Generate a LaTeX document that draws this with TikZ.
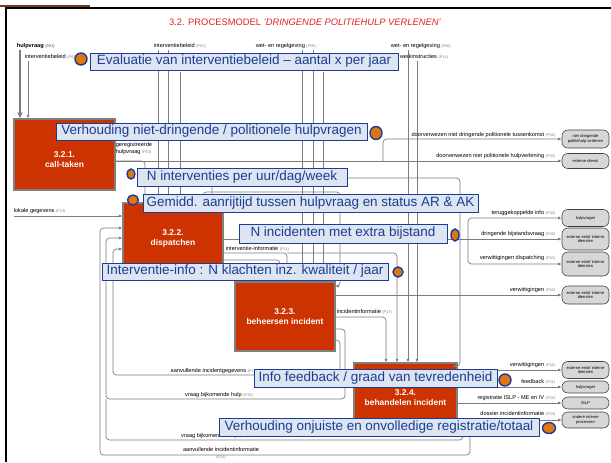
\documentclass[tikz,border=0pt]{standalone}
\usepackage{fontspec}
\setmainfont{Liberation Sans}
\usetikzlibrary{arrows.meta}
\usetikzlibrary{calc}
\usetikzlibrary{shapes.geometric}

\definecolor{procred}{RGB}{204,51,0}
\definecolor{flowgrey}{RGB}{125,125,125}
\definecolor{noteblue}{RGB}{28,60,150}
\definecolor{notefill}{RGB}{221,229,240}
\definecolor{dotorange}{RGB}{222,118,20}
\definecolor{termfill}{RGB}{215,215,215}
\definecolor{titlered}{RGB}{228,32,32}
\definecolor{framebrown}{RGB}{110,60,30}

\newcommand{\pnr}[1]{{\fontsize{3.3}{4}\selectfont\color{gray}(#1)}}

\tikzset{
  procbox/.style={rectangle, draw=gray, fill=procred, line width=0.9pt, text=white,
    font=\fontsize{7.2}{8.6}\selectfont\bfseries, align=center},
  note/.style={rectangle, draw=noteblue, fill=notefill, line width=0.8pt, text=noteblue,
    font=\fontsize{11.5}{12}\selectfont, inner sep=0pt},
  kpi/.style={ellipse, draw=noteblue, fill=dotorange, line width=1.2pt, inner sep=0pt},
  term/.style={rectangle, rounded corners=5pt, draw=darkgray, fill=termfill, line width=0.5pt,
    font=\fontsize{3.5}{4.2}\selectfont, align=center, minimum width=1.41cm, inner sep=0.5pt},
  flow/.style={draw=flowgrey, line width=0.6pt, rounded corners=3pt, -{Latex[length=3pt, width=2.6pt]}},
  flowline/.style={draw=flowgrey, line width=0.6pt, rounded corners=3pt},
  lbl/.style={font=\fontsize{4.8}{5.6}\selectfont, inner sep=0.5pt}
}

\begin{document}
\begin{tikzpicture}[x=0.03cm, y=-0.03cm]
  \useasboundingbox (0,0) rectangle (611,462);
  \draw[framebrown, line width=1.5pt] (0,6) -- (90,6);
  \draw[line width=2pt] (6,462) -- (6,8) -- (611,8);

  \node[font=\fontsize{8}{9}\selectfont, text=titlered] (title) at (305,22) {3.2. PROCESMODEL \textit{'DRINGENDE POLITIEHULP VERLENEN'}};

  % processen
  \node[procbox, minimum width=3.03cm, minimum height=2.13cm] (ct) at (64.5,154.5) {\rule{0pt}{13pt}3.2.1.\\call-taken};
  \node[procbox, minimum width=3cm, minimum height=2.1cm] (dp) at (173,238) {3.2.2.\\dispatchen};
  \node[procbox, minimum width=3cm, minimum height=2.07cm] (bh) at (285,316.5) {3.2.3.\\beheersen incident};
  \node[procbox, minimum width=3.09cm, minimum height=2.07cm] (bd) at (405.5,397.5) {3.2.4.\\behandelen incident};

  % eindpunten
  \node[term, minimum height=0.54cm] (t1) at (585.5,139) {niet dringende\\politiehulp verlenen};
  \node[term, minimum height=0.45cm] (t2) at (585.5,161) {externe dienst};
  \node[term, minimum height=0.51cm] (t3) at (585.5,218) {hulpvrager};
  \node[term, minimum height=0.66cm] (t4) at (585.5,239) {externe en/of interne\\diensten};
  \node[term, minimum height=0.72cm] (t5) at (585.5,264) {externe en/of interne\\diensten};
  \node[term, minimum height=0.54cm] (t6) at (585.5,295) {externe en/of interne\\diensten};
  \node[term, minimum height=0.51cm] (t7) at (585.5,370) {externe en/of interne\\diensten};
  \node[term, minimum height=0.36cm] (t8) at (585.5,387) {hulpvrager};
  \node[term, minimum height=0.36cm] (t9) at (585.5,403) {ISLP};
  \node[term, minimum height=0.48cm] (t10) at (585.5,420) {andere interne\\processen};

  % invoer bovenaan
  \node[lbl, anchor=west, font=\fontsize{4.8}{5.6}\selectfont\bfseries] (in1) at (16,46) {hulpvraag \pnr{P01}};
  \node[lbl, anchor=west] (in2) at (24,57) {interventiebeleid \pnr{P02}};
  \node[lbl, anchor=west] (in3) at (153,46) {interventiebeleid \pnr{P02}};
  \node[lbl, anchor=west] (in4) at (255,46) {wet- en regelgeving \pnr{P06}};
  \node[lbl, anchor=west] (in5) at (390,46) {wet- en regelgeving \pnr{P06}};
  \node[lbl, anchor=west] (in6) at (399,57) {werkinstructies \pnr{P14}};
  \node[lbl, anchor=west] (in7) at (13,211) {lokale gegevens \pnr{P13}};

  \coordinate (a1) at (20,50);
  \coordinate (a2) at (28,61);
  \coordinate (a3) at (158,50);
  \coordinate (a4) at (168,50);
  \coordinate (a5) at (180,72);
  \coordinate (a6) at (302,50);
  \coordinate (a7) at (313,50);
  \coordinate (a8) at (323,72);
  \coordinate (a9) at (408,50);
  \coordinate (a10) at (417,61);
  \coordinate (a11) at (14,216);

  \draw[flow, line width=2.2pt, -{Latex[length=5pt, width=5pt]}] (a1) -- (a1 |- ct.north);
  \draw[flow] (a2) -- (a2 |- ct.north);
  \foreach \c in {a3, a4, a5}
    \draw[flow] (\c) -- (\c |- dp.north);
  \foreach \c in {a6, a7, a8}
    \draw[flow] (\c) -- (\c |- bh.north);
  \foreach \c in {a9, a10}
    \draw[flow] (\c) -- (\c |- bd.north);
  \draw[flow] (a11) -- (a11 -| dp.west);

  % call-taken
  \coordinate (b1) at (145,161);
  \coordinate (b2) at (383,161);
  \draw[flow] (ct.east |- t2.west) -- (t2.west);
  \draw[flow] (ct.east |- t2.west) -| (dp.north -| b1);
  \draw[flow] (b2) |- (t1.west);
  \node[lbl, anchor=north west, align=left] (l3) at (115,142) {geregistreerde\\hulpvraag \pnr{P03}};
  \node[lbl, anchor=south east] (l4) at (556,138) {doorverwezen niet dringende politionele tussenkomst \pnr{P04}};
  \node[lbl, anchor=south east] (l5) at (556,159) {doorverwezen niet politionele hulpverlening \pnr{P05}};

  % dispatchen
  \coordinate (br) at (468,239);
  \draw[flowline] (dp.east |- br) -- (br);
  \draw[flow] (br) -- (t4.west);
  \draw[flow] (br) |- (t3.west);
  \draw[flow] (br) |- (t5.west);
  \node[lbl, anchor=south east] (l8) at (556,216) {teruggekoppelde info \pnr{P08}};
  \node[lbl, anchor=south east] (l9) at (556,237) {dringende bijstandsvraag \pnr{P09}};
  \node[lbl, anchor=south east] (l10) at (556,261) {verwittigingen dispatching \pnr{P10}};

  \coordinate (p11) at (287,253);
  \coordinate (p11b) at (397,253);
  \coordinate (p12) at (280,260);
  \draw[flow] (dp.east |- p11) -| (bh.north -| p11);
  \draw[flow] (p11) -| (bd.north -| p11b);
  \draw[flow] (dp.east |- p12) -| (bh.north -| p12);
  \node[lbl, anchor=south west] (l11) at (225,252) {interventie-informatie \pnr{P11}};

  \coordinate (s1) at (203,192);
  \coordinate (s2) at (340,192);
  \coordinate (s3) at (340,286);
  \draw[flow] (dp.north -| s1) |- (s2) |- (s3 -| bh.east);
  \coordinate (u1) at (212,178);
  \coordinate (u2) at (460,178);
  \coordinate (u3) at (460,366);
  \draw[flow] (dp.north -| u1) |- (u2) |- (u3 -| bd.east);

  % beheersen incident
  \draw[flow] (bh.east |- t6.west) -- (t6.west);
  \node[lbl, anchor=south east] (l16) at (556,293) {verwittigingen \pnr{P16}};
  \coordinate (p17) at (386,317);
  \draw[flow] (bh.east |- p17) -| (bd.north -| p17);
  \node[lbl, anchor=south west] (l17) at (336,315) {incidentinformatie \pnr{P17}};

  % terugkoppelingen naar dispatchen
  \coordinate (k18) at (340,340);
  \coordinate (m18) at (113,375);
  \coordinate (n18) at (113,249);
  \draw[flow] (bh.east |- k18) -- (k18) |- (m18) |- (n18 -| dp.west);
  \coordinate (k19) at (345,329);
  \coordinate (m19) at (106,399);
  \coordinate (n19) at (106,238);
  \draw[flow] (bh.east |- k19) -- (k19) |- (m19) |- (n19 -| dp.west);
  \coordinate (q19) at (463,426);
  \coordinate (r19) at (106,440);
  \draw[flowline] (bd.east |- q19) -- (q19) |- (r19) -- (m19);
  \coordinate (q24) at (470,430);
  \coordinate (r24) at (100,455);
  \coordinate (n24) at (100,228);
  \draw[flow] (bd.east |- q24) -- (q24) |- (r24) |- (n24 -| dp.west);
  \node[lbl, anchor=south] (l18) at (214,374) {aanvullende incidentgegevens \pnr{P18}};
  \node[lbl, anchor=south] (l19) at (219,398) {vraag bijkomende hulp \pnr{P19}};
  \node[lbl, anchor=south] (l19b) at (215,439) {vraag bijkomende hulp \pnr{P19}};
  \node[lbl, anchor=south, align=center] (l24) at (221,460) {aanvullende incidentinformatie\\\pnr{P24}};

  % behandelen incident
  \foreach \t in {t7, t8, t9, t10}
    \draw[flow] (bd.east |- \t.west) -- (\t.west);
  \node[lbl, anchor=south east] (l16b) at (556,368) {verwittigingen \pnr{P16}};
  \node[lbl, anchor=south east] (l21) at (556,385) {feedback \pnr{P21}};
  \node[lbl, anchor=south east] (l22) at (556,401) {registratie ISLP - ME en IV \pnr{P22}};
  \node[lbl, anchor=south east] (l23) at (556,417) {dossier incidentinformatie \pnr{P23}};

  % indicatoren
  \node[note, minimum width=9.24cm, minimum height=0.51cm] (c1) at (244,61.5) {Evaluatie van interventiebeleid – aantal x per jaar};
  \node[note, minimum width=9.33cm, minimum height=0.51cm] (c2) at (211.5,131.5) {Verhouding niet-dringende / politionele hulpvragen};
  \node[note, minimum width=6.3cm, minimum height=0.54cm] (c3) at (242,177) {N interventies per uur/dag/week};
  \node[note, minimum width=10.05cm, minimum height=0.54cm] (c4) at (310.5,203) {Gemidd. aanrijtijd tussen hulpvraag en status AR \& AK};
  \node[note, minimum width=6.24cm, minimum height=0.57cm] (c5) at (343,233.5) {N incidenten met extra bijstand};
  \node[note, minimum width=8.58cm, minimum height=0.51cm] (c6) at (245,271.5) {Interventie-info : N klachten inz. kwaliteit / jaar};
  \node[note, minimum width=7.29cm, minimum height=0.54cm] (c7) at (375.5,378) {Info feedback / graad van tevredenheid};
  \node[note, minimum width=9.6cm, minimum height=0.54cm] (c8) at (379,427) {Verhouding onjuiste en onvolledige registratie/totaal};

  \node[kpi, minimum width=0.36cm, minimum height=0.36cm] (o1) at (81,59) {};
  \node[kpi, minimum width=0.36cm, minimum height=0.39cm] (o2) at (376,133) {};
  \node[kpi, minimum width=0.24cm, minimum height=0.3cm] (o3) at (131,174) {};
  \node[kpi, minimum width=0.33cm, minimum height=0.3cm] (o4) at (133,200) {};
  \node[kpi, minimum width=0.24cm, minimum height=0.36cm] (o5) at (455,235) {};
  \node[kpi, minimum width=0.3cm, minimum height=0.3cm] (o6) at (398,272) {};
  \node[kpi, minimum width=0.36cm, minimum height=0.36cm] (o7) at (505,380) {};
  \node[kpi, minimum width=0.39cm, minimum height=0.33cm] (o8) at (549,428) {};
\end{tikzpicture}
\end{document}
